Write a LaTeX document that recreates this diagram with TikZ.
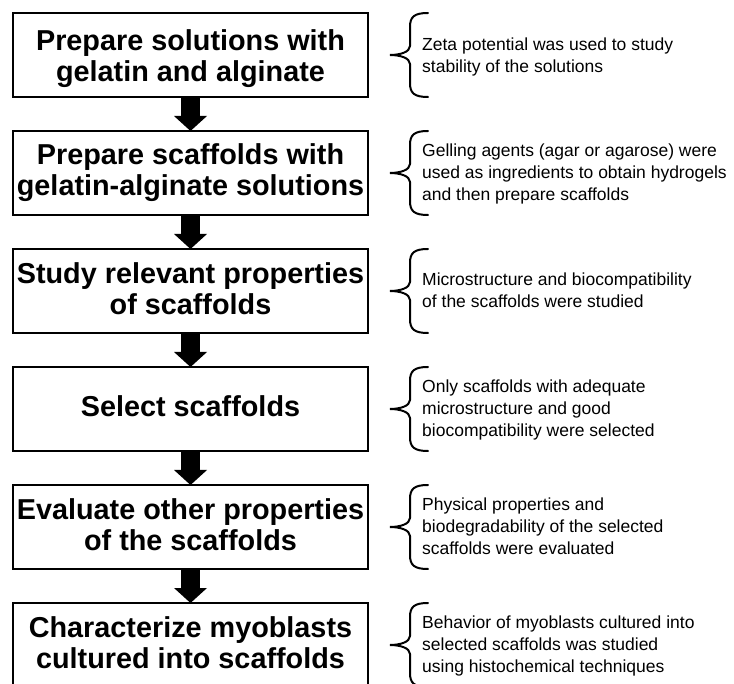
\documentclass[tikz,border=0pt]{standalone}
\usepackage{fontspec}
\setmainfont{Liberation Sans}
\usetikzlibrary{arrows.meta}
\newcommand\bst{\rule[-5pt]{0pt}{26pt}}
\newcommand\bstlow{\rule[-5pt]{0pt}{34pt}}
\newcommand\nst{\rule[-4.5pt]{0pt}{17pt}}
\newcommand\boxfont{\fontsize{28.8}{31}\selectfont\bfseries\lineskiplimit=-30pt\relax}
\newcommand\notefont{\fontsize{17.5}{22}\selectfont\lineskiplimit=-30pt\relax}
\tikzset{
  stepbox/.style={draw, line width=2.6pt, minimum width=355pt, minimum height=84pt,
    inner sep=0pt, outer sep=0pt, align=center, font=\boxfont},
  note/.style={anchor=west, inner sep=0pt, align=left, font=\notefont},
  flow/.style={line width=18.5pt, -{Triangle[width=33pt,length=15pt,line width=0pt]}},
  brace/.style={line width=2pt, line cap=round}
}
\begin{document}
\begin{tikzpicture}[x=1pt,y=-1pt]
\useasboundingbox (0,0) rectangle (734,684);
\clip (0,0) rectangle (734,684);
\fill[white] (0,0) rectangle (734,684);

\node[stepbox] (b1) at (190.5,55) {\bstlow Prepare solutions with\\\bst gelatin and alginate};
\node[stepbox] (b2) at (190.5,173) {\bst Prepare scaffolds with\\\bst gelatin-alginate solutions};
\node[stepbox] (b3) at (190.5,291) {\bst Study relevant properties\\\bst of scaffolds};
\node[stepbox] (b4) at (190.5,409) {\bst Select scaffolds};
\node[stepbox] (b5) at (190.5,527) {\bst Evaluate other properties\\\bst of the scaffolds};
\node[stepbox] (b6) at (190.5,645) {\bst Characterize myoblasts\\\bst cultured into scaffolds};

\draw[flow] (b1.south) -- (b2.north);
\draw[flow] (b2.south) -- (b3.north);
\draw[flow] (b3.south) -- (b4.north);
\draw[flow] (b4.south) -- (b5.north);
\draw[flow] (b5.south) -- (b6.north);

\foreach \c in {55,173,291,409,527,645}{
  \draw[brace] (428,\c-42) .. controls (414,\c-42) and (410,\c-38) .. (410,\c-28)
    -- (410,\c-9) .. controls (410,\c-3) and (400,\c) .. (390,\c)
    .. controls (400,\c) and (410,\c+3) .. (410,\c+9)
    -- (410,\c+28) .. controls (410,\c+38) and (414,\c+42) .. (428,\c+42);
}

\node[note] (n1) at (422,57) {\nst Zeta potential was used to study\\\nst stability of the solutions};
\node[note] (n2) at (422,174) {\nst Gelling agents (agar or agarose) were\\\nst used as ingredients to obtain hydrogels\\\nst and then prepare scaffolds};
\node[note] (n3) at (422,292) {\nst Microstructure and biocompatibility\\\nst of the scaffolds were studied};
\node[note] (n4) at (422,410) {\nst Only scaffolds with adequate\\\nst microstructure and good\\\nst biocompatibility were selected};
\node[note] (n5) at (422,528) {\nst Physical properties and\\\nst biodegradability of the selected\\\nst scaffolds were evaluated};
\node[note] (n6) at (422,646) {\nst Behavior of myoblasts cultured into\\\nst selected scaffolds was studied\\\nst using histochemical techniques};
\end{tikzpicture}
\end{document}
